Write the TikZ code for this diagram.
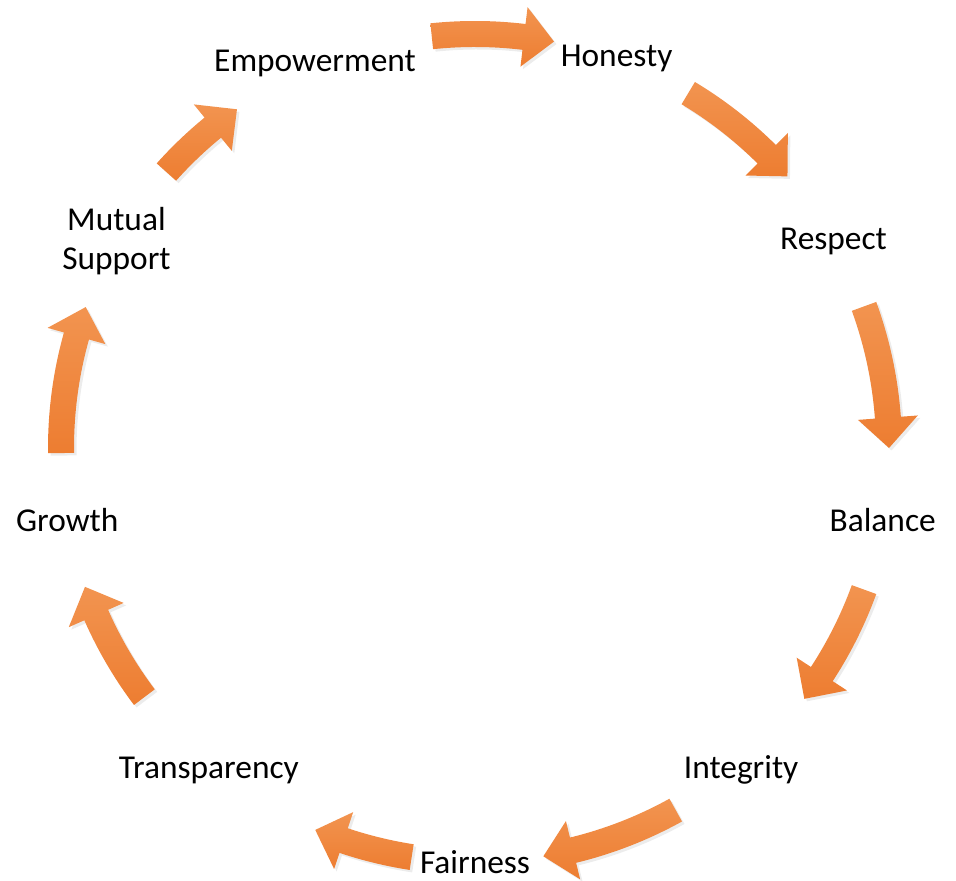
\documentclass[tikz,border=0pt]{standalone}
\usepackage{fontspec}
\setmainfont{Carlito}
\usetikzlibrary{calc,shadows}

\definecolor{arrowtop}{RGB}{242,148,80}
\definecolor{arrowbot}{RGB}{237,125,49}

\tikzset{
    ringlabel/.style={font=\fontsize{19}{22}\selectfont, align=center, inner sep=0pt},
    cyclearrow/.style={top color=arrowtop, bottom color=arrowbot,
        drop shadow={opacity=0.15, shadow xshift=0.05cm, shadow yshift=-0.05cm}}
}

% curved block arrow on the ring, from angle #1 down to angle #2
\newcommand{\ringarrow}[2]{%
    \pgfmathsetmacro{\hb}{#2+4.2}%
    \path[cyclearrow] (#1:8.54) arc[start angle=#1, end angle=\hb, radius=8.54]
        -- (\hb:8.88) -- (#2:8.28) -- (\hb:7.68) -- (\hb:8.02)
        arc[start angle=\hb, end angle=#1, radius=8.02] -- cycle;%
}

\begin{document}
\begin{tikzpicture}
    % page size
    \useasboundingbox (0,0) rectangle (19.12,17.62);
    \coordinate (c) at (9.5,8.66);

    % the labels on the ring
    \node[ringlabel] (empower) at (6.30,16.36) {Empowerment};
    \node[ringlabel] (honesty) at ($(c)+(70:8.28)$) {Honesty};
    \node[ringlabel] (respect) at ($(c)+(30:8.28)$) {Respect};
    \node[ringlabel] (balance) at ($(c)+(-10:8.28)$) {Balance};
    \node[ringlabel] (integrity) at ($(c)+(-50:8.28)+(0,-0.1)$) {Integrity};
    \node[ringlabel] (fairness) at ($(c)+(-90:8.28)$) {Fairness};
    \node[ringlabel] (transp) at ($(c)+(-130:8.28)+(0,-0.1)$) {Transparency};
    \node[ringlabel] (growth) at ($(c)+(-170:8.28)$) {Growth};
    \node[ringlabel] (mutual) at ($(c)+(150:8.28)$) {Mutual\\Support};

    % arrows between them, clockwise
    \begin{scope}[shift={(c)}]
        \ringarrow{96}{79}
        \ringarrow{59}{41}
        \ringarrow{20}{0}
        \ringarrow{340}{322.7}
        \ringarrow{299}{279.5}
        \ringarrow{261.2}{247.3}
        \ringarrow{217}{199.6}
        \ringarrow{180.7}{160.1}
        \ringarrow{138.2}{125.1}
    \end{scope}
\end{tikzpicture}
\end{document}
